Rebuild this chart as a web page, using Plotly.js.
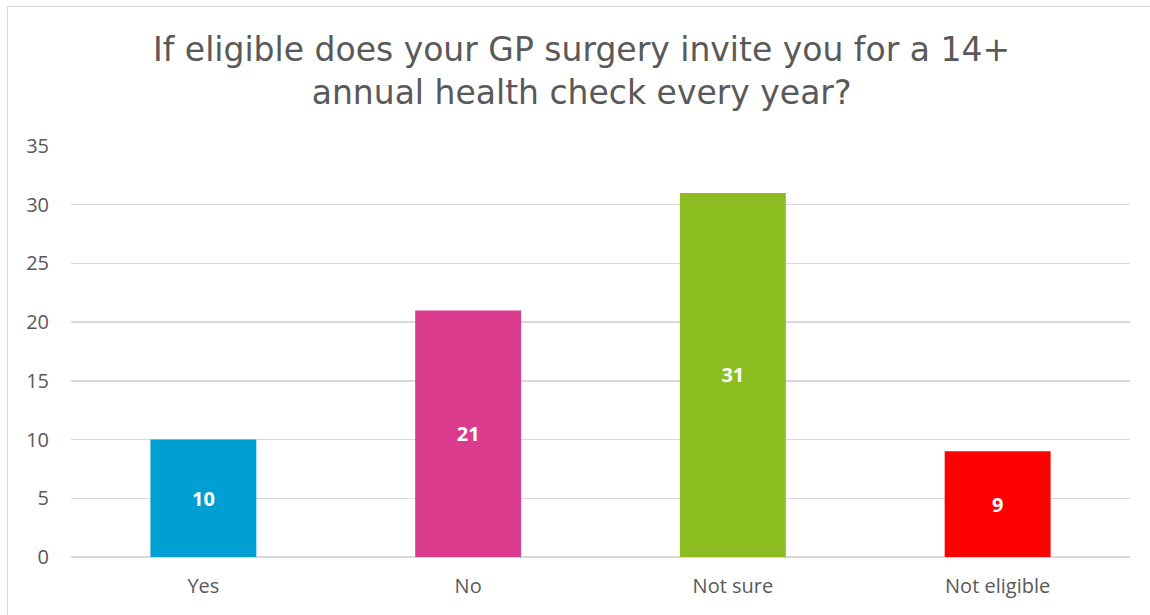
<!DOCTYPE html>
<html>
<head>
<meta charset="utf-8">
<script src="https://cdn.plot.ly/plotly-3.0.1.min.js"></script>
<style>
html,body{margin:0;padding:0;background:#fff;}
#wrap{position:relative;width:1150px;height:615px;overflow:hidden;}
#chart{width:1150px;height:615px;}
#frame{position:absolute;left:7px;top:6px;width:1160px;height:640px;border:1px solid #d9d9d9;pointer-events:none;}
</style>
</head>
<body>
<div id="wrap"><div id="chart"></div><div id="frame"></div></div>
<script>
const categories = ["Yes", "No", "Not sure", "Not eligible"];
const values = [10, 21, 31, 9];
const barColors = ["#009FD1", "#DA3B8D", "#8CBE22", "#FF0000"];
const yTicks = [0, 5, 10, 15, 20, 25, 30, 35];
const chartTitle = "If eligible does your GP surgery invite you for a 14+<br>annual health check every year?";

const trace = {
  type: "bar",
  x: categories,
  y: values,
  marker: {color: barColors},
  text: values.map(String),
  textposition: "inside",
  insidetextanchor: "middle",
  textfont: {family: "Open Sans, sans-serif", size: 20, color: "#ffffff", weight: "bold"},
  hoverinfo: "none"
};

const layout = {
  width: 1150,
  height: 615,
  paper_bgcolor: "#ffffff",
  plot_bgcolor: "#ffffff",
  showlegend: false,
  bargap: 0.6,
  margin: {l: 71, r: 20, t: 146, b: 58},
  title: {
    text: chartTitle,
    font: {family: "DejaVu Sans, Verdana, sans-serif", size: 33, color: "#595959"},
    x: 0.5057, xanchor: "center",
    y: 0.901, yanchor: "top"
  },
  xaxis: {
    type: "category",
    showgrid: false,
    showline: false,
    ticks: "",
    tickfont: {family: "Open Sans, sans-serif", size: 20, color: "#595959"},
    ticklabelstandoff: 15
  },
  yaxis: {
    range: [0, 35],
    tickvals: yTicks,
    showgrid: true,
    gridcolor: "#d9d9d9",
    gridwidth: 1.5,
    zeroline: true,
    zerolinecolor: "#d9d9d9",
    zerolinewidth: 1.5,
    showline: false,
    ticks: "",
    tickfont: {family: "Open Sans, sans-serif", size: 20, color: "#595959"},
    ticklabelstandoff: 21
  }
};

Plotly.newPlot("chart", [trace], layout, {staticPlot: true, displayModeBar: false});
</script>
</body>
</html>
